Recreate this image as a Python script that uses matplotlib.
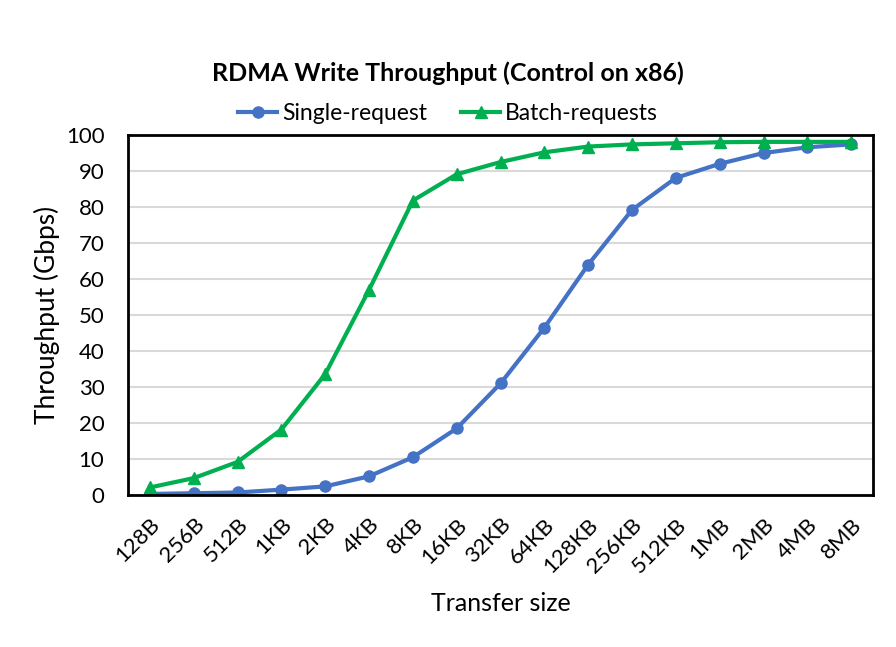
import matplotlib
matplotlib.use("Agg")
import matplotlib.pyplot as plt
import numpy as np

sizes = ["128B", "256B", "512B", "1KB", "2KB", "4KB", "8KB", "16KB", "32KB",
         "64KB", "128KB", "256KB", "512KB", "1MB", "2MB", "4MB", "8MB"]
single = [0.3, 0.5, 0.7, 1.5, 2.4, 5.2, 10.5, 18.5, 31.0,
          46.5, 64.0, 79.2, 88.1, 92.0, 95.0, 96.6, 97.4]
batch = [2.1, 4.7, 9.2, 18.2, 33.6, 57.0, 81.8, 89.1, 92.5,
         95.2, 96.8, 97.4, 97.7, 98.0, 98.1, 98.1, 98.1]

plt.rcParams["font.family"] = ["Lato", "DejaVu Sans"]

fig = plt.figure(figsize=(8.96, 6.47), dpi=100)
ax = fig.add_axes([0.1429, 0.2349, 0.8315, 0.5564])

x = np.arange(len(sizes))
ax.plot(x, single, color="#4472C4", lw=3, marker="o", ms=8, label="Single-request")
ax.plot(x, batch, color="#00B050", lw=3, marker="^", ms=8, label="Batch-requests")

ax.set_xlim(-0.5, len(sizes) - 0.5)
ax.set_ylim(0, 100)
ax.set_yticks(range(0, 101, 10))
ax.set_xticks(x)
ax.set_xticklabels(sizes, rotation=45, ha="right", rotation_mode="anchor")
ax.tick_params(labelsize=16, length=0)
ax.tick_params(axis="y", pad=17)
ax.tick_params(axis="x", pad=14)
ax.grid(axis="y", color="#d9d9d9", lw=1.5)
ax.set_axisbelow(True)
for s in ax.spines.values():
    s.set_linewidth(2)
    s.set_color("black")

ax.set_ylabel("Throughput (Gbps)", fontsize=19, va="center")
ax.yaxis.set_label_coords(-0.109, 0.5)
ax.set_xlabel("Transfer size", fontsize=18)
ax.xaxis.set_label_coords(0.5, -0.27)
fig.text(0.5, 0.887, "RDMA Write Throughput (Control on x86)", ha="center",
         va="center", fontsize=18, fontweight="bold")
fig.legend(*ax.get_legend_handles_labels(), loc="center",
           bbox_to_anchor=(0.5, 0.825), ncol=2, frameon=False,
           fontsize=16.5, handlelength=1.7, handletextpad=0.2, columnspacing=1.5)

fig.savefig("out.png", dpi=100)
